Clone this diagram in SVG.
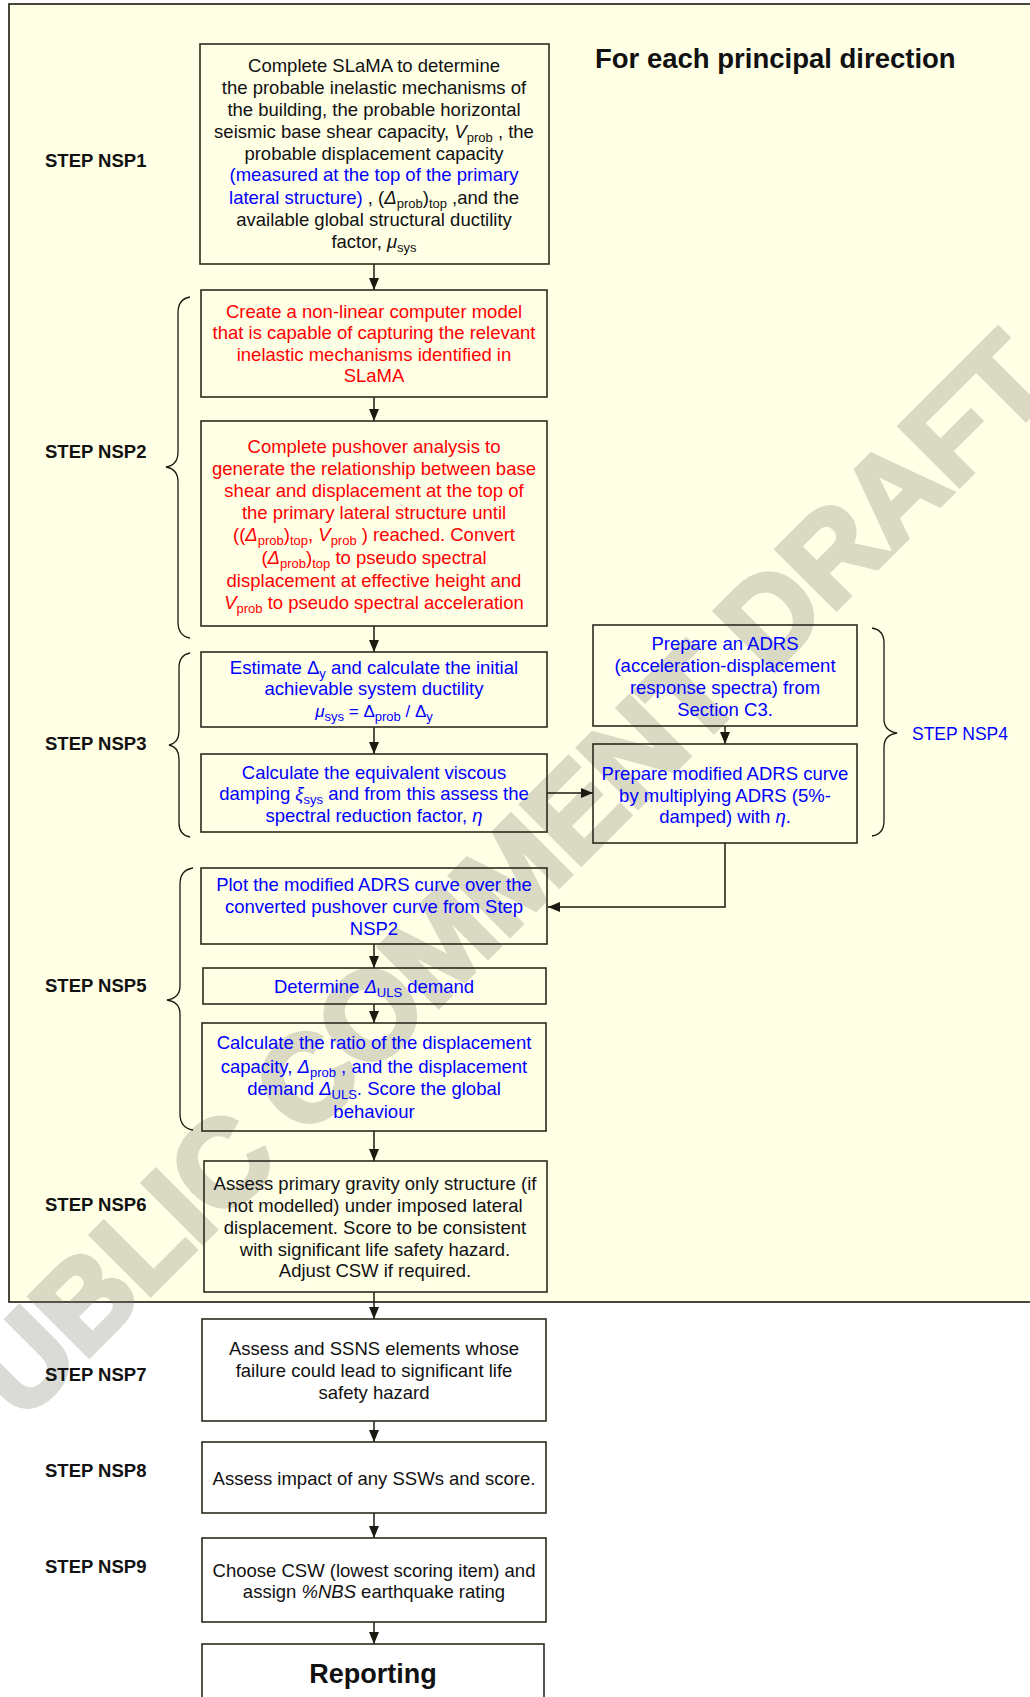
<svg xmlns="http://www.w3.org/2000/svg" width="1030" height="1697" viewBox="0 0 1030 1697">
<defs>
<style>
.t{font-family:"Liberation Sans",Arial,sans-serif;font-size:18.5px;text-anchor:middle;fill:#111}
.r{fill:#ff0000}
.b{fill:#0000ff}
.k{fill:#111}
.i{font-style:italic}
.sb{font-size:13px}
.lbl{font-family:"Liberation Sans",Arial,sans-serif;font-size:18.5px;font-weight:bold;fill:#111}
.box{fill:none;stroke:#2b2b1e;stroke-width:1.6}
.con{fill:none;stroke:#1a1a10;stroke-width:1.5}
.br{fill:none;stroke:#1a1a10;stroke-width:1.3}
</style>
<marker id="ah" viewBox="0 0 12 10" markerUnits="userSpaceOnUse" markerWidth="12" markerHeight="10" refX="12" refY="5" orient="auto">
<path d="M0,0 L12,5 L0,10 z" fill="#1a1a10"/>
</marker>
</defs>
<rect x="0" y="0" width="1030" height="1697" fill="#ffffff"/>
<rect id="frame" x="9" y="4" width="1040" height="1298" fill="#ffffe6" stroke="#1a1a10" stroke-width="1.6"/>
<text id="watermark" transform="translate(-35,1480) rotate(-45)" font-family="'Liberation Sans',Arial,sans-serif" font-weight="bold" font-size="122" letter-spacing="-1" fill="#7a7a6a" stroke="#7a7a6a" stroke-width="5" stroke-linejoin="miter" opacity="0.27">PUBLIC COMMENT DRAFT</text>
<text id="title" x="595" y="68" font-family="'Liberation Sans',Arial,sans-serif" font-size="27.5" font-weight="bold" fill="#111">For each principal direction</text>

<g id="labels">
<text class="lbl" x="45" y="167">STEP NSP1</text>
<text class="lbl" x="45" y="458">STEP NSP2</text>
<text class="lbl" x="45" y="750">STEP NSP3</text>
<text class="lbl" x="45" y="992">STEP NSP5</text>
<text class="lbl" x="45" y="1211">STEP NSP6</text>
<text class="lbl" x="45" y="1381">STEP NSP7</text>
<text class="lbl" x="45" y="1477">STEP NSP8</text>
<text class="lbl" x="45" y="1573">STEP NSP9</text>
<text x="912" y="740" font-family="'Liberation Sans',Arial,sans-serif" font-size="17.5" fill="#0000ff">STEP NSP4</text>
</g>

<g id="braces">
<path class="br" d="M190,297 Q178,299 178,313 L178,452 Q178,465 166,467 Q178,469 178,482 L178,622 Q178,636 190,638"/>
<path class="br" d="M190,653 Q179,655 179,668 L179,731 Q179,743 169,745 Q179,747 179,759 L179,823 Q179,835 190,837"/>
<path class="br" d="M193,868 Q180,870 180,884 L180,986 Q180,998 167,1000 Q180,1002 180,1014 L180,1114 Q180,1128 193,1130"/>
<path class="br" d="M872,628 Q884,630 884,643 L884,719 Q884,731 897,733 Q884,735 884,747 L884,821 Q884,834 872,836"/>
</g>

<g id="connectors">
<line class="con" x1="374" y1="264" x2="374" y2="290" marker-end="url(#ah)"/>
<line class="con" x1="374" y1="397" x2="374" y2="421" marker-end="url(#ah)"/>
<line class="con" x1="374" y1="626" x2="374" y2="652" marker-end="url(#ah)"/>
<line class="con" x1="374" y1="727" x2="374" y2="754" marker-end="url(#ah)"/>
<line class="con" x1="547" y1="793" x2="593" y2="793" marker-end="url(#ah)"/>
<line class="con" x1="725" y1="726" x2="725" y2="744" marker-end="url(#ah)"/>
<polyline class="con" points="725,843 725,907 548,907" marker-end="url(#ah)"/>
<line class="con" x1="374" y1="944" x2="374" y2="968" marker-end="url(#ah)"/>
<line class="con" x1="374" y1="1004" x2="374" y2="1023" marker-end="url(#ah)"/>
<line class="con" x1="374" y1="1131" x2="374" y2="1161" marker-end="url(#ah)"/>
<line class="con" x1="374" y1="1292" x2="374" y2="1319" marker-end="url(#ah)"/>
<line class="con" x1="374" y1="1421" x2="374" y2="1442" marker-end="url(#ah)"/>
<line class="con" x1="374" y1="1513" x2="374" y2="1538" marker-end="url(#ah)"/>
<line class="con" x1="374" y1="1622" x2="374" y2="1644" marker-end="url(#ah)"/>
</g>

<g id="nsp1">
<rect class="box" x="200" y="44" width="349" height="220"/>
<text class="t" x="374" y="72">Complete SLaMA to determine</text>
<text class="t" x="374" y="94">the probable inelastic mechanisms of</text>
<text class="t" x="374" y="115.5">the building, the probable horizontal</text>
<text class="t" x="374" y="137.5">seismic base shear capacity, <tspan class="i">V</tspan><tspan class="sb" dy="4">prob</tspan><tspan dy="-4"> , the</tspan></text>
<text class="t" x="374" y="159.5">probable displacement capacity</text>
<text class="t b" x="374" y="181">(measured at the top of the primary</text>
<text class="t" x="374" y="203.5"><tspan class="b">lateral structure)</tspan> , (<tspan class="i">Δ</tspan><tspan class="sb" dy="4">prob</tspan><tspan dy="-4">)</tspan><tspan class="sb" dy="4">top</tspan><tspan dy="-4"> ,and the</tspan></text>
<text class="t" x="374" y="225.5">available global structural ductility</text>
<text class="t" x="374" y="248">factor, <tspan class="i">μ</tspan><tspan class="sb" dy="4">sys</tspan></text>
</g>

<g id="nsp2a">
<rect class="box" x="201" y="290" width="346" height="107"/>
<text class="t r" x="374" y="317.5">Create a non-linear computer model</text>
<text class="t r" x="374" y="339">that is capable of capturing the relevant</text>
<text class="t r" x="374" y="360.5">inelastic mechanisms identified in</text>
<text class="t r" x="374" y="382">SLaMA</text>
</g>

<g id="nsp2b">
<rect class="box" x="201" y="421" width="346" height="205"/>
<text class="t r" x="374" y="452.5">Complete pushover analysis to</text>
<text class="t r" x="374" y="474.5">generate the relationship between base</text>
<text class="t r" x="374" y="496.5">shear and displacement at the top of</text>
<text class="t r" x="374" y="519">the primary lateral structure until</text>
<text class="t r" x="374" y="541">((<tspan class="i">Δ</tspan><tspan class="sb" dy="4">prob</tspan><tspan dy="-4">)</tspan><tspan class="sb" dy="4">top</tspan><tspan dy="-4">, </tspan><tspan class="i">V</tspan><tspan class="sb" dy="4">prob</tspan><tspan dy="-4"> ) reached. Convert</tspan></text>
<text class="t r" x="374" y="564">(<tspan class="i">Δ</tspan><tspan class="sb" dy="4">prob</tspan><tspan dy="-4">)</tspan><tspan class="sb" dy="4">top</tspan><tspan dy="-4"> to pseudo spectral</tspan></text>
<text class="t r" x="374" y="586.5">displacement at effective height and</text>
<text class="t r" x="374" y="608.5"><tspan class="i">V</tspan><tspan class="sb" dy="4">prob</tspan><tspan dy="-4"> to pseudo spectral acceleration</tspan></text>
</g>

<g id="nsp3a">
<rect class="box" x="201" y="652" width="346" height="75"/>
<text class="t b" x="374" y="673.5">Estimate Δ<tspan class="sb" dy="4">y</tspan><tspan dy="-4"> and calculate the initial</tspan></text>
<text class="t b" x="374" y="695">achievable system ductility</text>
<text class="t b" x="374" y="717" style="font-size:17px"><tspan class="i">μ</tspan><tspan class="sb" dy="4">sys</tspan><tspan dy="-4"> = Δ</tspan><tspan class="sb" dy="4">prob</tspan><tspan dy="-4"> / Δ</tspan><tspan class="sb" dy="4">y</tspan></text>
</g>

<g id="nsp3b">
<rect class="box" x="201" y="754" width="346" height="78"/>
<text class="t b" x="374" y="778.5">Calculate the equivalent viscous</text>
<text class="t b" x="374" y="800">damping <tspan class="i">ξ</tspan><tspan class="sb" dy="4">sys</tspan><tspan dy="-4"> and from this assess the</tspan></text>
<text class="t b" x="374" y="821.5">spectral reduction factor, <tspan class="i">η</tspan></text>
</g>

<g id="nsp4a">
<rect class="box" x="593" y="625" width="264" height="101"/>
<text class="t b" x="725" y="650">Prepare an ADRS</text>
<text class="t b" x="725" y="672">(acceleration-displacement</text>
<text class="t b" x="725" y="693.5">response spectra) from</text>
<text class="t b" x="725" y="716">Section C3.</text>
</g>

<g id="nsp4b">
<rect class="box" x="593" y="744" width="264" height="99"/>
<text class="t b" x="725" y="780">Prepare modified ADRS curve</text>
<text class="t b" x="725" y="801.5">by multiplying ADRS (5%-</text>
<text class="t b" x="725" y="823">damped) with <tspan class="i">η</tspan>.</text>
</g>

<g id="nsp5a">
<rect class="box" x="201" y="868" width="346" height="76"/>
<text class="t b" x="374" y="891">Plot the modified ADRS curve over the</text>
<text class="t b" x="374" y="913">converted pushover curve from Step</text>
<text class="t b" x="374" y="934.5">NSP2</text>
</g>

<g id="nsp5b">
<rect class="box" x="203" y="968" width="343" height="36"/>
<text class="t b" x="374" y="993">Determine <tspan class="i">Δ</tspan><tspan class="sb" dy="4">ULS</tspan><tspan dy="-4"> demand</tspan></text>
</g>

<g id="nsp5c">
<rect class="box" x="202" y="1023" width="344" height="108"/>
<text class="t b" x="374" y="1049">Calculate the ratio of the displacement</text>
<text class="t b" x="374" y="1072.5">capacity, <tspan class="i">Δ</tspan><tspan class="sb" dy="4">prob</tspan><tspan dy="-4"> , and the displacement</tspan></text>
<text class="t b" x="374" y="1095">demand <tspan class="i">Δ</tspan><tspan class="sb" dy="4">ULS</tspan><tspan dy="-4">. Score the global</tspan></text>
<text class="t b" x="374" y="1118">behaviour</text>
</g>

<g id="nsp6">
<rect class="box" x="204" y="1161" width="343" height="131"/>
<text class="t" x="375" y="1190">Assess primary gravity only structure (if</text>
<text class="t" x="375" y="1212">not modelled) under imposed lateral</text>
<text class="t" x="375" y="1233.5">displacement. Score to be consistent</text>
<text class="t" x="375" y="1256">with significant life safety hazard.</text>
<text class="t" x="375" y="1277">Adjust CSW if required.</text>
</g>

<g id="nsp7">
<rect class="box" x="202" y="1319" width="344" height="102"/>
<text class="t" x="374" y="1355">Assess and SSNS elements whose</text>
<text class="t" x="374" y="1377">failure could lead to significant life</text>
<text class="t" x="374" y="1398.5">safety hazard</text>
</g>

<g id="nsp8">
<rect class="box" x="202" y="1442" width="344" height="71"/>
<text class="t" x="374" y="1485">Assess impact of any SSWs and score.</text>
</g>

<g id="nsp9">
<rect class="box" x="202" y="1538" width="344" height="84"/>
<text class="t" x="374" y="1577">Choose CSW (lowest scoring item) and</text>
<text class="t" x="374" y="1597.5">assign <tspan class="i">%NBS</tspan> earthquake rating</text>
</g>

<g id="reporting">
<rect class="box" x="202" y="1644" width="342" height="70"/>
<text x="373" y="1683" font-family="'Liberation Sans',Arial,sans-serif" font-size="27" font-weight="bold" text-anchor="middle" fill="#111">Reporting</text>
</g>
</svg>
